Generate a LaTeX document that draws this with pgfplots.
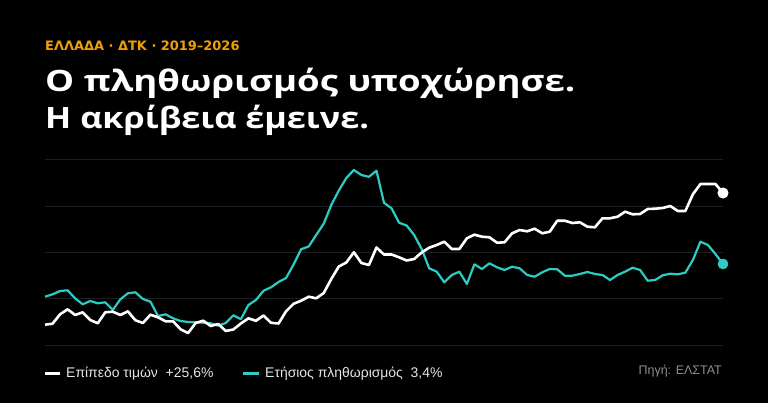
\documentclass[border=0pt]{standalone}
\usepackage{fontspec}
\setmainfont{Liberation Sans}
\newfontfamily\headfont{Open Sans}
\newfontfamily\kickerfont{DejaVu Sans}
\usepackage{pgfplots}
\pgfplotsset{compat=1.18}
\usepackage{pgfplotstable}

\definecolor{bg}{HTML}{000000}
\definecolor{accent}{HTML}{F29F05}
\definecolor{teal}{HTML}{2CCBC3}
\definecolor{gridc}{HTML}{1B1F25}
\definecolor{srcgray}{HTML}{8A8F97}
\definecolor{legtext}{HTML}{E6E6E6}

% index, height above bottom grid line (px)
\pgfplotstableread{
i h
0 20.3
1 21.3
2 30.7
3 35.7
4 30
5 32.7
6 25
7 21.7
8 32.7
9 33.3
10 30
11 33.7
12 24.7
13 22
14 30.3
15 27.7
16 23.7
17 23.7
18 15.7
19 12
20 22
21 24.3
22 19
23 21
24 14
25 15.5
26 21.5
27 26.7
28 24.2
29 29.5
30 22.2
31 21.5
32 33.7
33 41.2
34 44.3
35 48.3
36 46.7
37 52
38 66
39 78.5
40 82.5
41 92.7
42 82
43 80
44 97.5
45 90.5
46 90.5
47 87.7
48 84.5
49 86
50 92.5
51 97.3
52 100
53 103.3
54 96
55 96
56 106.7
57 110.3
58 108.3
59 107.7
60 102.3
61 102.7
62 111.7
63 115
64 113.7
65 116.3
66 111.7
67 113.3
68 124.3
69 124.3
70 122
71 122.7
72 118.3
73 117.7
74 126.7
75 126.7
76 128.3
77 133.3
78 130.7
79 131
80 136
81 136.3
82 137
83 139
84 134
85 134
86 150.7
87 161
88 161
89 161
90 152
}\prices

\pgfplotstableread{
i h
0 48.3
1 50.7
2 54
3 54.7
4 46.7
5 40.7
6 44
7 41.7
8 42.7
9 35
10 45.7
11 51.7
12 52.7
13 46
14 43.3
15 29
16 30.7
17 26.7
18 24
19 23
20 22.7
21 22.3
22 21.7
23 19.3
24 22
25 29.7
26 25.8
27 40
28 45
29 54.2
30 57.7
31 63
32 67
33 80.5
34 95.8
35 98.5
36 110
37 121.3
38 140
39 154.5
40 167
41 175
42 170
43 168.2
44 174.3
45 142.2
46 136.7
47 122.3
48 119.5
49 110
50 96
51 76.7
52 73.3
53 62.7
54 70
55 73.3
56 61
57 80.7
58 76
59 81.7
60 77.7
61 75
62 78.3
63 76.7
64 70
65 68.3
66 72.7
67 76
68 75.7
69 69.3
70 69.3
71 71
72 73
73 71
74 70
75 65
76 70
77 73.3
78 77.3
79 75
80 64.3
81 65
82 69.7
83 71.3
84 70.7
85 72.3
86 85
87 103.3
88 100
89 91
90 81
}\inflation

\begin{document}
\begin{tikzpicture}[x=1bp,y=1bp]
\fill[bg] (0,0) rectangle (768,403);

% headings
\node[anchor=base west,inner sep=0,text=accent,font=\kickerfont\fontsize{13}{16}\selectfont\bfseries]
  at (45,353) {ΕΛΛΑΔΑ · ΔΤΚ · 2019–2026};
\node[anchor=base west,inner sep=0,xscale=1.245,text=white,font=\headfont\fontsize{29.5}{34}\selectfont\bfseries]
  at (45,311.3) {Ο πληθωρισμός υποχώρησε.};
\node[anchor=base west,inner sep=0,xscale=1.165,text=white,font=\headfont\fontsize{29.5}{34}\selectfont\bfseries]
  at (45,274.7) {Η ακρίβεια έμεινε.};

\begin{axis}[
    at={(45bp,58bp)}, anchor=south west,
    width=678bp, height=185bp, scale only axis,
    xmin=0, xmax=90, ymin=0, ymax=185,
    axis line style={draw=none},
    xtick=\empty,
    ytick={0,46.25,92.5,138.75,185},
    yticklabels={},
    major tick length=0pt,
    ymajorgrids=true,
    grid style={gridc,line width=1bp},
    clip=false,
  ]
  \addplot[teal,line width=2.2bp,line join=round,
           mark=*,mark indices={91},mark size=4.2bp,
           mark options={fill=teal,draw=teal}]
    table[x=i,y=h] {\inflation};
  \addplot[white,line width=2.6bp,line join=round,
           mark=*,mark indices={91},mark size=4.2bp,
           mark options={fill=white,draw=white}]
    table[x=i,y=h] {\prices};
\end{axis}

% legend
\draw[white,line width=2.6bp] (45,29.7) -- (60,29.7);
\node[anchor=base west,inner sep=0,text=legtext,font=\fontsize{14}{16}\selectfont]
  at (66,25.3) {Επίπεδο τιμών\ \ +25,6\%};
\draw[teal,line width=2.6bp] (243,29.7) -- (259,29.7);
\node[anchor=base west,inner sep=0,text=legtext,font=\fontsize{14}{16}\selectfont]
  at (265,25.3) {Ετήσιος πληθωρισμός\ \ 3,4\%};
\node[anchor=base east,inner sep=0,text=srcgray,font=\fontsize{12.5}{14}\selectfont]
  at (722,28.5) {Πηγή: ΕΛΣΤΑΤ};
\end{tikzpicture}
\end{document}
